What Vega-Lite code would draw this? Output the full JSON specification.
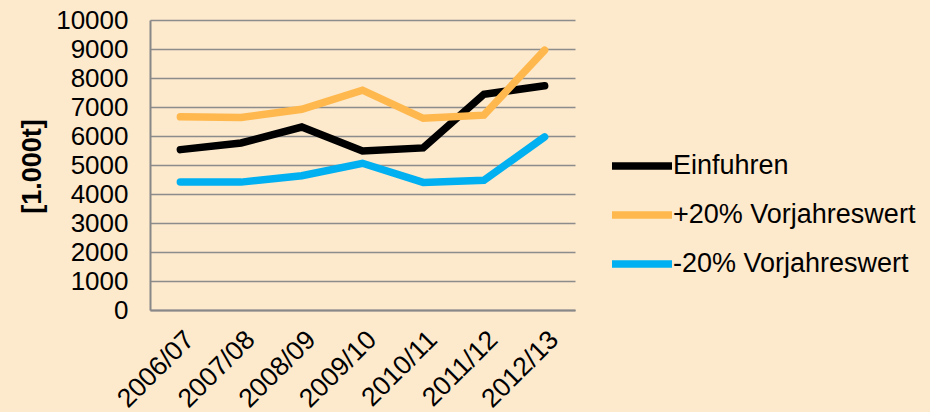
{
  "$schema": "https://vega.github.io/schema/vega-lite/v6.json",
  "autosize": {"type": "none"},
  "width": 425,
  "height": 290,
  "padding": {"left": 150, "top": 20, "right": 355, "bottom": 102},
  "background": "#FDE9CC",
  "config": {
    "view": {"stroke": null},
    "font": "Liberation Sans",
    "axis": {"labelFont": "Liberation Sans", "titleFont": "Liberation Sans", "labelColor": "#000000", "titleColor": "#000000"},
    "legend": {"labelFont": "Liberation Sans", "labelColor": "#000000"}
  },
  "data": {
    "values": [
      {"season": "2006/07", "series": "Einfuhren", "value": 5530},
      {"season": "2007/08", "series": "Einfuhren", "value": 5760},
      {"season": "2008/09", "series": "Einfuhren", "value": 6310},
      {"season": "2009/10", "series": "Einfuhren", "value": 5480},
      {"season": "2010/11", "series": "Einfuhren", "value": 5590},
      {"season": "2011/12", "series": "Einfuhren", "value": 7440},
      {"season": "2012/13", "series": "Einfuhren", "value": 7730},
      {"season": "2006/07", "series": "+20% Vorjahreswert", "value": 6660},
      {"season": "2007/08", "series": "+20% Vorjahreswert", "value": 6640},
      {"season": "2008/09", "series": "+20% Vorjahreswert", "value": 6920},
      {"season": "2009/10", "series": "+20% Vorjahreswert", "value": 7580},
      {"season": "2010/11", "series": "+20% Vorjahreswert", "value": 6610},
      {"season": "2011/12", "series": "+20% Vorjahreswert", "value": 6720},
      {"season": "2012/13", "series": "+20% Vorjahreswert", "value": 8960},
      {"season": "2006/07", "series": "-20% Vorjahreswert", "value": 4410},
      {"season": "2007/08", "series": "-20% Vorjahreswert", "value": 4410},
      {"season": "2008/09", "series": "-20% Vorjahreswert", "value": 4630},
      {"season": "2009/10", "series": "-20% Vorjahreswert", "value": 5060},
      {"season": "2010/11", "series": "-20% Vorjahreswert", "value": 4400},
      {"season": "2011/12", "series": "-20% Vorjahreswert", "value": 4470},
      {"season": "2012/13", "series": "-20% Vorjahreswert", "value": 5970}
    ]
  },
  "mark": {"type": "line", "strokeWidth": 7.5, "strokeCap": "round"},
  "encoding": {
    "x": {
      "field": "season",
      "type": "ordinal",
      "scale": {"type": "point", "padding": 0.5},
      "axis": {
        "title": null,
        "labelAngle": -45,
        "labelFontSize": 26.5,
        "labelPadding": 16,
        "ticks": false,
        "grid": false,
        "domainColor": "#888888",
        "domainWidth": 2
      }
    },
    "y": {
      "field": "value",
      "type": "quantitative",
      "scale": {"domain": [0, 10000], "nice": false},
      "axis": {
        "values": [0, 1000, 2000, 3000, 4000, 5000, 6000, 7000, 8000, 9000, 10000],
        "format": "d",
        "title": "[1.000t]",
        "titleFontSize": 27,
        "titleFontWeight": "bold",
        "titleX": -118,
        "titleY": 146,
        "titleBaseline": "middle",
        "titleAlign": "center",
        "titleAngle": -90,
        "labelFontSize": 26,
        "labelPadding": 22,
        "labelBaseline": "middle",
        "ticks": false,
        "grid": true,
        "gridColor": "#8C8C8C",
        "gridWidth": 1.5,
        "domainColor": "#888888",
        "domainWidth": 2
      }
    },
    "color": {
      "field": "series",
      "type": "nominal",
      "sort": ["Einfuhren", "+20% Vorjahreswert", "-20% Vorjahreswert"],
      "scale": {
        "domain": ["Einfuhren", "+20% Vorjahreswert", "-20% Vorjahreswert"],
        "range": ["#000000", "#FFB84D", "#00B0F0"]
      },
      "legend": {
        "title": null,
        "orient": "none",
        "legendX": 458,
        "legendY": 112,
        "symbolType": "stroke",
        "symbolSize": 3600,
        "symbolStrokeWidth": 7.5,
        "labelFontSize": 27,
        "labelOffset": -3,
        "labelLimit": 400,
        "rowPadding": -6
      }
    }
  }
}
